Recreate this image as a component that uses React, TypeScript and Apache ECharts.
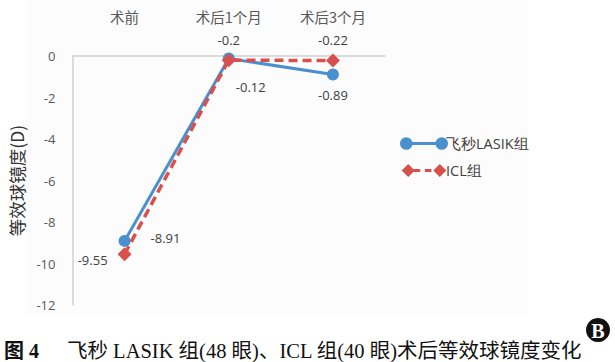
import React, { useEffect, useRef } from "react";
import * as echarts from "echarts";

const categories = ["术前", "术后1个月", "术后3个月"];
const lasikValues = [-8.91, -0.12, -0.89];
const iclValues = [-9.55, -0.2, -0.22];
const seriesNames = ["飞秒LASIK组", "ICL组"];
const yTicks = { min: -12, max: 0, interval: 2 };

const lasikLabelStyle = [
  { position: "right", distance: 20, offset: [0, -3] },
  { position: "bottom", distance: 12, offset: [22, 4] },
  { position: "bottom", distance: 8, offset: [0, 0] },
];
const iclLabelStyle = [
  { position: "left", distance: 10, offset: [0, 6] },
  { position: "top", distance: 7, offset: [0, 0] },
  { position: "top", distance: 7, offset: [0, 0] },
];

const circleIcon =
  "path://M1,7 A6,6 0 1,1 13,7 A6,6 0 1,1 1,7 Z M12,5.5 L36,5.5 L36,8.5 L12,8.5 Z M35,7 A6,6 0 1,1 47,7 A6,6 0 1,1 35,7 Z";
const diamondIcon =
  "path://M0,7 L7,0 L14,7 L7,14 Z M13,5.5 L20,5.5 L20,8.5 L13,8.5 Z M25,5.5 L32,5.5 L32,8.5 L25,8.5 Z M34,7 L41,0 L48,7 L41,14 Z";

export default function App() {
  const ref = useRef<HTMLDivElement>(null);
  useEffect(() => {
    if (!ref.current) return;
    const chart = echarts.init(ref.current, null, { renderer: "svg" });
    const labelBase = { show: true, fontSize: 13, color: "#404040", fontFamily: "Open Sans, sans-serif" };
    chart.setOption({
      animation: false,
      backgroundColor: "#ffffff",
      grid: { left: 62, right: 230, top: 56, bottom: 57 },
      legend: {
        orient: "vertical",
        left: 395,
        top: 131,
        itemGap: 12,
        itemWidth: 48,
        itemHeight: 13,
        textStyle: { fontSize: 14.5, color: "#404040", fontFamily: "Open Sans, sans-serif", padding: [0, 0, 0, -7] },
        data: [
          { name: seriesNames[0], icon: circleIcon },
          { name: seriesNames[1], icon: diamondIcon },
        ],
      },
      xAxis: {
        type: "category",
        position: "top",
        data: categories,
        axisLine: { lineStyle: { color: "#d0d0d0", width: 1.5 } },
        axisTick: { show: false },
        axisLabel: { margin: 32, fontSize: 14.5, color: "#595959", fontFamily: "Noto Sans CJK SC, sans-serif" },
      },
      yAxis: {
        type: "value",
        min: yTicks.min,
        max: yTicks.max,
        interval: yTicks.interval,
        name: "等效球镜度(D)",
        nameLocation: "middle",
        nameRotate: 90,
        nameGap: 47,
        nameTextStyle: { fontSize: 17.5, color: "#333", fontFamily: "Noto Sans CJK SC, sans-serif" },
        axisLine: { show: true, lineStyle: { color: "#d0d0d0", width: 1.5 } },
        axisTick: { show: false },
        splitLine: { show: false },
        axisLabel: { fontSize: 13, color: "#595959", margin: 17, fontFamily: "Open Sans, sans-serif" },
      },
      series: [
        {
          name: seriesNames[0],
          type: "line",
          data: lasikValues.map((v, i) => ({ value: v, label: { ...labelBase, ...lasikLabelStyle[i] } })),
          symbol: "circle",
          symbolSize: 12,
          itemStyle: { color: "#4a8fd0" },
          lineStyle: { width: 3, color: "#4a8fd0" },
          z: 2,
        },
        {
          name: seriesNames[1],
          type: "line",
          data: iclValues.map((v, i) => ({ value: v, label: { ...labelBase, ...iclLabelStyle[i] } })),
          symbol: "diamond",
          symbolSize: 14,
          itemStyle: { color: "#d94f4c" },
          lineStyle: { width: 3.5, color: "#d94f4c", type: [9, 5] },
          z: 3,
        },
      ],
      graphic: [
        {
          type: "rect",
          z: -10,
          silent: true,
          shape: { x: 25, y: 0, width: 503, height: 315 },
          style: { fill: "#fcfcfc" },
        },
        {
          type: "circle",
          shape: { cx: 598, cy: 330, r: 12 },
          style: { fill: "#111" },
        },
        {
          type: "text",
          x: 598,
          y: 331,
          style: {
            text: "B",
            fill: "#fff",
            fontSize: 20,
            fontWeight: "bold",
            fontFamily: "Liberation Serif, serif",
            align: "center",
            verticalAlign: "middle",
          },
        },
        {
          type: "text",
          x: 4,
          y: 351,
          style: {
            text: "图 4",
            fill: "#111",
            fontSize: 20,
            fontWeight: "bold",
            fontFamily: "Liberation Serif, Noto Sans CJK SC, serif",
            verticalAlign: "middle",
          },
        },
        {
          type: "text",
          x: 67,
          y: 351,
          style: {
            text: "飞秒 LASIK 组(48 眼)、ICL 组(40 眼)术后等效球镜度变化",
            fill: "#111",
            fontSize: 20.5,
            fontFamily: "Liberation Serif, Noto Sans CJK SC, serif",
            verticalAlign: "middle",
          },
        },
      ],
    });
    return () => chart.dispose();
  }, []);
  return (
    <div
      ref={ref}
      style={{ position: "fixed", left: 0, top: 0, width: 615, height: 362 }}
    />
  );
}
